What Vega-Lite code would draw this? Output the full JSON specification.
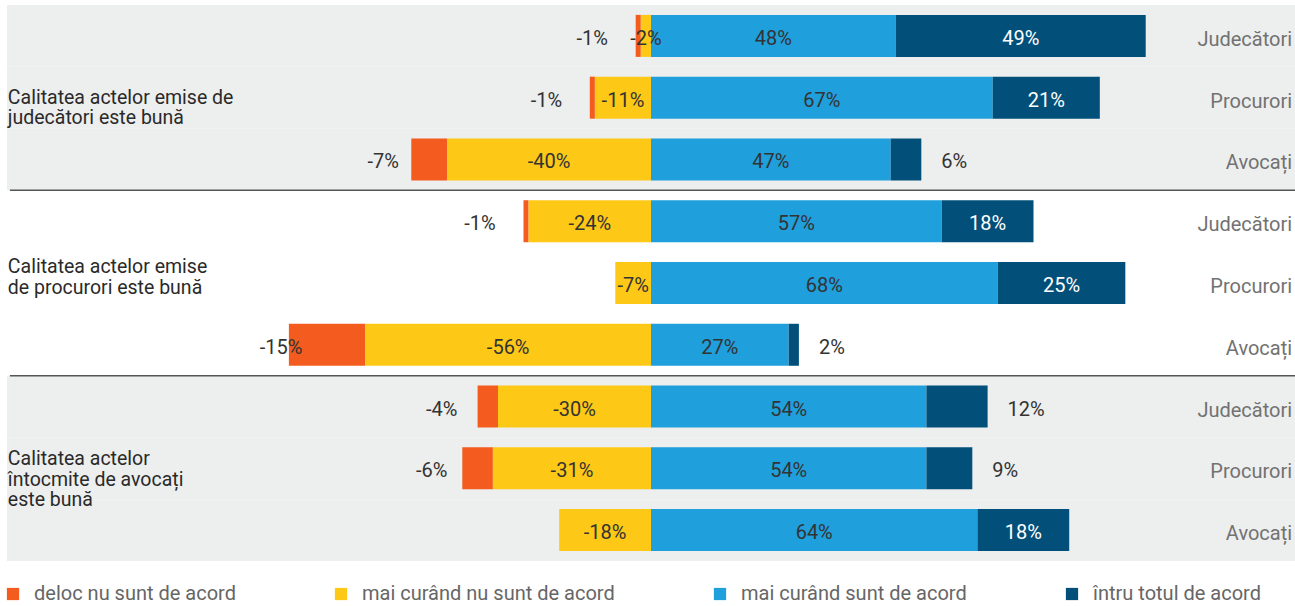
{
  "$schema": "https://vega.github.io/schema/vega-lite/v6.json",
  "width": 1288,
  "height": 556,
  "autosize": {"type": "none"},
  "padding": {"left": 7, "top": 5, "right": 0, "bottom": 45},
  "background": "white",
  "config": {"view": {"stroke": null}, "font": "Roboto", "text": {"font": "Roboto"}},
  "datasets": {
    "bars": [
      {"row": "r1", "cat": "deloc nu sunt de acord", "value": -1, "ord": 3},
      {"row": "r1", "cat": "mai curând nu sunt de acord", "value": -2, "ord": 1},
      {"row": "r1", "cat": "mai curând sunt de acord", "value": 48, "ord": 2},
      {"row": "r1", "cat": "întru totul de acord", "value": 49, "ord": 4},
      {"row": "r2", "cat": "deloc nu sunt de acord", "value": -1, "ord": 3},
      {"row": "r2", "cat": "mai curând nu sunt de acord", "value": -11, "ord": 1},
      {"row": "r2", "cat": "mai curând sunt de acord", "value": 67, "ord": 2},
      {"row": "r2", "cat": "întru totul de acord", "value": 21, "ord": 4},
      {"row": "r3", "cat": "deloc nu sunt de acord", "value": -7, "ord": 3},
      {"row": "r3", "cat": "mai curând nu sunt de acord", "value": -40, "ord": 1},
      {"row": "r3", "cat": "mai curând sunt de acord", "value": 47, "ord": 2},
      {"row": "r3", "cat": "întru totul de acord", "value": 6, "ord": 4},
      {"row": "r4", "cat": "deloc nu sunt de acord", "value": -1, "ord": 3},
      {"row": "r4", "cat": "mai curând nu sunt de acord", "value": -24, "ord": 1},
      {"row": "r4", "cat": "mai curând sunt de acord", "value": 57, "ord": 2},
      {"row": "r4", "cat": "întru totul de acord", "value": 18, "ord": 4},
      {"row": "r5", "cat": "mai curând nu sunt de acord", "value": -7, "ord": 1},
      {"row": "r5", "cat": "mai curând sunt de acord", "value": 68, "ord": 2},
      {"row": "r5", "cat": "întru totul de acord", "value": 25, "ord": 4},
      {"row": "r6", "cat": "deloc nu sunt de acord", "value": -15, "ord": 3},
      {"row": "r6", "cat": "mai curând nu sunt de acord", "value": -56, "ord": 1},
      {"row": "r6", "cat": "mai curând sunt de acord", "value": 27, "ord": 2},
      {"row": "r6", "cat": "întru totul de acord", "value": 2, "ord": 4},
      {"row": "r7", "cat": "deloc nu sunt de acord", "value": -4, "ord": 3},
      {"row": "r7", "cat": "mai curând nu sunt de acord", "value": -30, "ord": 1},
      {"row": "r7", "cat": "mai curând sunt de acord", "value": 54, "ord": 2},
      {"row": "r7", "cat": "întru totul de acord", "value": 12, "ord": 4},
      {"row": "r8", "cat": "deloc nu sunt de acord", "value": -6, "ord": 3},
      {"row": "r8", "cat": "mai curând nu sunt de acord", "value": -31, "ord": 1},
      {"row": "r8", "cat": "mai curând sunt de acord", "value": 54, "ord": 2},
      {"row": "r8", "cat": "întru totul de acord", "value": 9, "ord": 4},
      {"row": "r9", "cat": "mai curând nu sunt de acord", "value": -18, "ord": 1},
      {"row": "r9", "cat": "mai curând sunt de acord", "value": 64, "ord": 2},
      {"row": "r9", "cat": "întru totul de acord", "value": 18, "ord": 4}
    ],
    "rows": [
      {"row": "r1", "resp": "Judecători", "shade": "grey"},
      {"row": "r2", "resp": "Procurori", "shade": "grey"},
      {"row": "r3", "resp": "Avocați", "shade": "grey"},
      {"row": "r4", "resp": "Judecători", "shade": "white"},
      {"row": "r5", "resp": "Procurori", "shade": "white"},
      {"row": "r6", "resp": "Avocați", "shade": "white"},
      {"row": "r7", "resp": "Judecători", "shade": "grey"},
      {"row": "r8", "resp": "Procurori", "shade": "grey"},
      {"row": "r9", "resp": "Avocați", "shade": "grey"}
    ],
    "groups": [
      {"row": "r2", "g": 1, "label": "Calitatea actelor emise de\njudecători este bună"},
      {"row": "r5", "g": 2, "label": "Calitatea actelor emise\nde procurori este bună"},
      {"row": "r8", "g": 3, "label": "Calitatea actelor\nîntocmite de avocați\neste bună"}
    ],
    "seps": [
      {"row": "r3"},
      {"row": "r6"}
    ]
  },
  "encoding": {
    "y": {"field": "row", "type": "ordinal", "axis": null, "scale": {"paddingInner": 0, "paddingOuter": 0}}
  },
  "layer": [
    {
      "data": {"name": "rows"},
      "transform": [{"filter": "datum.shade == 'grey'"}],
      "mark": {"type": "rect", "color": "#EDEEEE"},
      "encoding": {
        "x": {"datum": -126.27, "type": "quantitative", "axis": null, "scale": {"domain": [-126.27, 126.27], "nice": false, "zero": false}},
        "x2": {"datum": 126.27}
      }
    },
    {
      "data": {"name": "seps"},
      "mark": {"type": "rule", "color": "#555555", "strokeWidth": 1.5},
      "encoding": {
        "y": {"field": "row", "type": "ordinal", "bandPosition": 1},
        "x": {"datum": -125.7, "type": "quantitative", "axis": null, "scale": {"domain": [-126.27, 126.27], "nice": false, "zero": false}},
        "x2": {"datum": 126.27}
      }
    },
    {
      "data": {"name": "bars"},
      "mark": {"type": "bar", "height": {"band": 0.68}},
      "encoding": {
        "x": {"field": "value", "type": "quantitative", "stack": "zero", "axis": null, "scale": {"domain": [-126.27, 126.27], "nice": false, "zero": false}},
        "color": {
          "field": "cat", "type": "nominal",
          "scale": {
            "domain": ["deloc nu sunt de acord", "mai curând nu sunt de acord", "mai curând sunt de acord", "întru totul de acord"],
            "range": ["#F45B1F", "#FEC817", "#1F9FDB", "#02507A"]
          },
          "legend": {
            "orient": "none", "legendX": -4, "legendY": 579, "direction": "horizontal", "title": null,
            "symbolType": "square", "symbolSize": 150, "symbolStrokeWidth": 0,
            "labelFontSize": 20, "labelColor": "#666666", "labelFont": "Roboto",
            "columnPadding": 95, "labelOffset": 11, "labelLimit": 400
          }
        },
        "order": {"field": "ord", "type": "quantitative"}
      }
    },
    {
      "data": {"name": "bars"},
      "transform": [
        {"stack": "value", "groupby": ["row"], "sort": [{"field": "ord", "order": "ascending"}], "as": ["s0", "s1"], "offset": "zero"},
        {"calculate": "(datum.s0 + datum.s1) / 2", "as": "mid"},
        {"calculate": "datum.value + '%'", "as": "lab"},
        {"filter": "datum.cat != 'deloc nu sunt de acord' && !(datum.cat == 'întru totul de acord' && datum.value <= 12)"}
      ],
      "mark": {"type": "text", "fontSize": 20, "baseline": "middle", "align": "center", "dy": 3},
      "encoding": {
        "x": {"field": "mid", "type": "quantitative", "axis": null, "scale": {"domain": [-126.27, 126.27], "nice": false, "zero": false}},
        "text": {"field": "lab"},
        "color": {"condition": {"test": "datum.cat == 'întru totul de acord'", "value": "#FFFFFF"}, "value": "#333333"}
      }
    },
    {
      "data": {"name": "bars"},
      "transform": [
        {"stack": "value", "groupby": ["row"], "sort": [{"field": "ord", "order": "ascending"}], "as": ["s0", "s1"], "offset": "zero"},
        {"calculate": "(datum.s0 + datum.s1) / 2", "as": "mid"},
        {"calculate": "datum.value + '%'", "as": "lab"},
        {"filter": "datum.cat == 'deloc nu sunt de acord'"}
      ],
      "mark": {"type": "text", "fontSize": 20, "baseline": "middle", "align": "center", "dy": 3, "dx": -46, "color": "#333333"},
      "encoding": {
        "x": {"field": "mid", "type": "quantitative", "axis": null, "scale": {"domain": [-126.27, 126.27], "nice": false, "zero": false}},
        "text": {"field": "lab"}
      }
    },
    {
      "data": {"name": "bars"},
      "transform": [
        {"stack": "value", "groupby": ["row"], "sort": [{"field": "ord", "order": "ascending"}], "as": ["s0", "s1"], "offset": "zero"},
        {"calculate": "datum.value + '%'", "as": "lab"},
        {"filter": "datum.cat == 'întru totul de acord' && datum.value <= 12"}
      ],
      "mark": {"type": "text", "fontSize": 20, "baseline": "middle", "align": "left", "dy": 3, "dx": 20, "color": "#333333"},
      "encoding": {
        "x": {"field": "s1", "type": "quantitative", "axis": null, "scale": {"domain": [-126.27, 126.27], "nice": false, "zero": false}},
        "text": {"field": "lab"}
      }
    },
    {
      "data": {"name": "rows"},
      "mark": {"type": "text", "fontSize": 20, "baseline": "middle", "align": "right", "dy": 4, "color": "#727272"},
      "encoding": {
        "x": {"datum": 125.7, "type": "quantitative", "axis": null, "scale": {"domain": [-126.27, 126.27], "nice": false, "zero": false}},
        "text": {"field": "resp"}
      }
    },
    {
      "data": {"name": "groups"},
      "transform": [{"filter": "datum.g == 1"}],
      "mark": {"type": "text", "fontSize": 19.5, "baseline": "middle", "align": "left", "dy": 0, "lineHeight": 20.5, "lineBreak": "\n", "color": "#2A2A2A"},
      "encoding": {
        "x": {"datum": -126.1, "type": "quantitative", "axis": null, "scale": {"domain": [-126.27, 126.27], "nice": false, "zero": false}},
        "text": {"field": "label"}
      }
    },
    {
      "data": {"name": "groups"},
      "transform": [{"filter": "datum.g == 2"}],
      "mark": {"type": "text", "fontSize": 19.5, "baseline": "middle", "align": "left", "dy": -16, "lineHeight": 20.5, "lineBreak": "\n", "color": "#2A2A2A"},
      "encoding": {
        "x": {"datum": -126.1, "type": "quantitative", "axis": null, "scale": {"domain": [-126.27, 126.27], "nice": false, "zero": false}},
        "text": {"field": "label"}
      }
    },
    {
      "data": {"name": "groups"},
      "transform": [{"filter": "datum.g == 3"}],
      "mark": {"type": "text", "fontSize": 19.5, "baseline": "middle", "align": "left", "dy": -9, "lineHeight": 20.5, "lineBreak": "\n", "color": "#2A2A2A"},
      "encoding": {
        "x": {"datum": -126.1, "type": "quantitative", "axis": null, "scale": {"domain": [-126.27, 126.27], "nice": false, "zero": false}},
        "text": {"field": "label"}
      }
    }
  ]
}
